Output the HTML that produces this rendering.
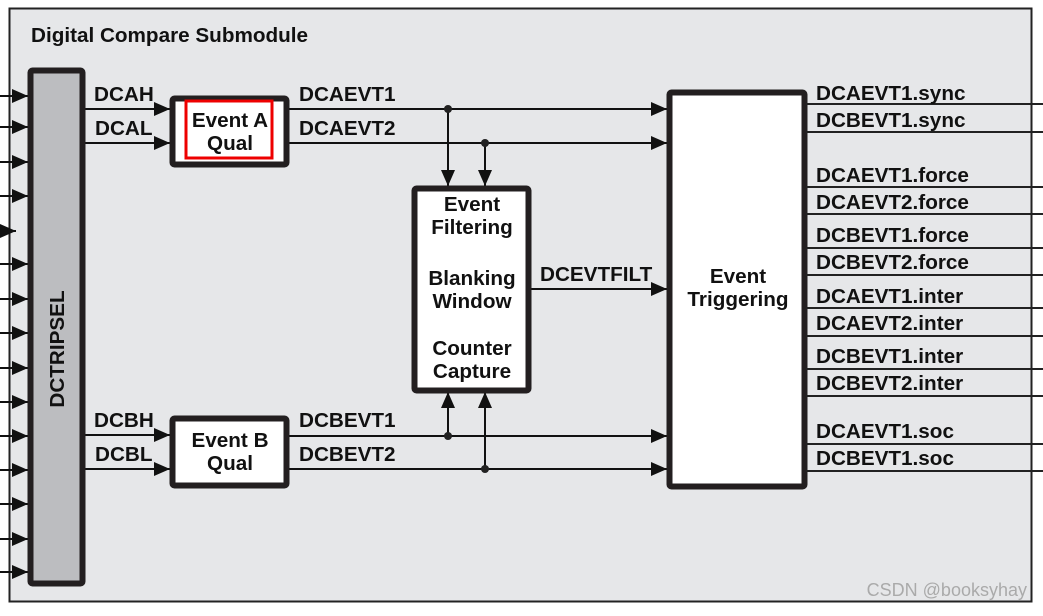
<!DOCTYPE html>
<html><head><style>html,body{margin:0;padding:0;background:#fff}</style></head>
<body>
<svg width="1043" height="611" xmlns="http://www.w3.org/2000/svg" font-family="Liberation Sans, sans-serif" font-weight="bold">
<defs>
<marker id="b" viewBox="0 0 16 14" markerWidth="16" markerHeight="14" refX="16" refY="7" orient="auto" markerUnits="userSpaceOnUse">
<path d="M0,0 L16,7 L0,14 Z" fill="#111"/></marker>
</defs>
<rect x="9.5" y="8.5" width="1022" height="593" fill="#e6e7e9" stroke="#222" stroke-width="2"/>
<text x="31" y="42" font-size="20.7" fill="#111">Digital Compare Submodule</text>
<g stroke="#111" stroke-width="2" marker-end="url(#b)">
<line x1="0" y1="96" x2="28" y2="96"/><line x1="0" y1="127" x2="28" y2="127"/>
<line x1="0" y1="162" x2="28" y2="162"/><line x1="0" y1="196" x2="28" y2="196"/>
<line x1="0" y1="231" x2="16" y2="231"/><line x1="0" y1="264" x2="28" y2="264"/>
<line x1="0" y1="299" x2="28" y2="299"/><line x1="0" y1="333" x2="28" y2="333"/>
<line x1="0" y1="368" x2="28" y2="368"/><line x1="0" y1="402" x2="28" y2="402"/>
<line x1="0" y1="436" x2="28" y2="436"/><line x1="0" y1="470" x2="28" y2="470"/>
<line x1="0" y1="504" x2="28" y2="504"/><line x1="0" y1="539" x2="28" y2="539"/>
<line x1="0" y1="572" x2="28" y2="572"/>
<line x1="84" y1="109" x2="170" y2="109"/><line x1="84" y1="143" x2="170" y2="143"/>
<line x1="84" y1="435" x2="170" y2="435"/><line x1="84" y1="469" x2="170" y2="469"/>
<line x1="288" y1="109" x2="667" y2="109"/><line x1="288" y1="143" x2="667" y2="143"/>
<line x1="288" y1="436" x2="667" y2="436"/><line x1="288" y1="469" x2="667" y2="469"/>
<line x1="530" y1="289" x2="667" y2="289"/>
<line x1="448" y1="109" x2="448" y2="186"/><line x1="485" y1="143" x2="485" y2="186"/>
<line x1="448" y1="436" x2="448" y2="392"/><line x1="485" y1="469" x2="485" y2="392"/>
</g>
<g fill="#222"><circle cx="448" cy="109" r="4"/><circle cx="485" cy="143" r="4"/><circle cx="448" cy="436" r="4"/><circle cx="485" cy="469" r="4"/></g>
<rect x="30.5" y="70.5" width="52" height="513" fill="#bcbdc0" stroke="#231f20" stroke-width="6" rx="2"/>
<text transform="translate(64,349) rotate(-90)" text-anchor="middle" font-size="20.7" fill="#111">DCTRIPSEL</text>
<rect x="172.5" y="98.5" width="114" height="66" fill="#fff" stroke="#231f20" stroke-width="6" rx="2"/>
<rect x="186" y="101" width="86" height="57" fill="none" stroke="#e00" stroke-width="3"/>
<text x="230" y="127" text-anchor="middle" font-size="20.7" fill="#111">Event A</text>
<text x="230" y="150" text-anchor="middle" font-size="20.7" fill="#111">Qual</text>
<rect x="172.5" y="418.5" width="114" height="67" fill="#fff" stroke="#231f20" stroke-width="6" rx="2"/>
<text x="230" y="447" text-anchor="middle" font-size="20.7" fill="#111">Event B</text>
<text x="230" y="470" text-anchor="middle" font-size="20.7" fill="#111">Qual</text>
<rect x="414.5" y="188.5" width="114" height="202" fill="#fff" stroke="#231f20" stroke-width="6" rx="2"/>
<g text-anchor="middle" font-size="20.7" fill="#111">
<text x="472" y="211">Event</text><text x="472" y="234">Filtering</text>
<text x="472" y="285">Blanking</text><text x="472" y="308">Window</text>
<text x="472" y="355">Counter</text><text x="472" y="378">Capture</text>
</g>
<rect x="669.5" y="92.5" width="135" height="394" fill="#fff" stroke="#231f20" stroke-width="6" rx="2"/>
<text x="738" y="283" text-anchor="middle" font-size="20.7" fill="#111">Event</text>
<text x="738" y="306" text-anchor="middle" font-size="20.7" fill="#111">Triggering</text>
<g font-size="20.7" fill="#111">
<text x="94" y="101">DCAH</text><text x="95" y="135">DCAL</text>
<text x="94" y="427">DCBH</text><text x="95" y="461">DCBL</text>
<text x="299" y="101">DCAEVT1</text><text x="299" y="135">DCAEVT2</text>
<text x="299" y="427">DCBEVT1</text><text x="299" y="461">DCBEVT2</text>
<text x="540" y="281">DCEVTFILT</text>
</g>
<g stroke="#222" stroke-width="2">
<line x1="806" y1="104" x2="1043" y2="104"/><line x1="806" y1="132" x2="1043" y2="132"/>
<line x1="806" y1="187" x2="1043" y2="187"/><line x1="806" y1="214" x2="1043" y2="214"/>
<line x1="806" y1="248" x2="1043" y2="248"/><line x1="806" y1="275" x2="1043" y2="275"/>
<line x1="806" y1="308" x2="1043" y2="308"/><line x1="806" y1="336" x2="1043" y2="336"/>
<line x1="806" y1="369" x2="1043" y2="369"/><line x1="806" y1="396" x2="1043" y2="396"/>
<line x1="806" y1="444" x2="1043" y2="444"/><line x1="806" y1="471" x2="1043" y2="471"/>
</g>
<g font-size="20.7" fill="#111">
<text x="816" y="100">DCAEVT1.sync</text><text x="816" y="127">DCBEVT1.sync</text>
<text x="816" y="182">DCAEVT1.force</text><text x="816" y="209">DCAEVT2.force</text>
<text x="816" y="242">DCBEVT1.force</text><text x="816" y="269">DCBEVT2.force</text>
<text x="816" y="303">DCAEVT1.inter</text><text x="816" y="330">DCAEVT2.inter</text>
<text x="816" y="363">DCBEVT1.inter</text><text x="816" y="390">DCBEVT2.inter</text>
<text x="816" y="438">DCAEVT1.soc</text><text x="816" y="465">DCBEVT1.soc</text>
</g>
<text x="1027" y="596" text-anchor="end" font-size="18" font-weight="normal" fill="#aaa">CSDN @booksyhay</text>
</svg>
</body></html>
